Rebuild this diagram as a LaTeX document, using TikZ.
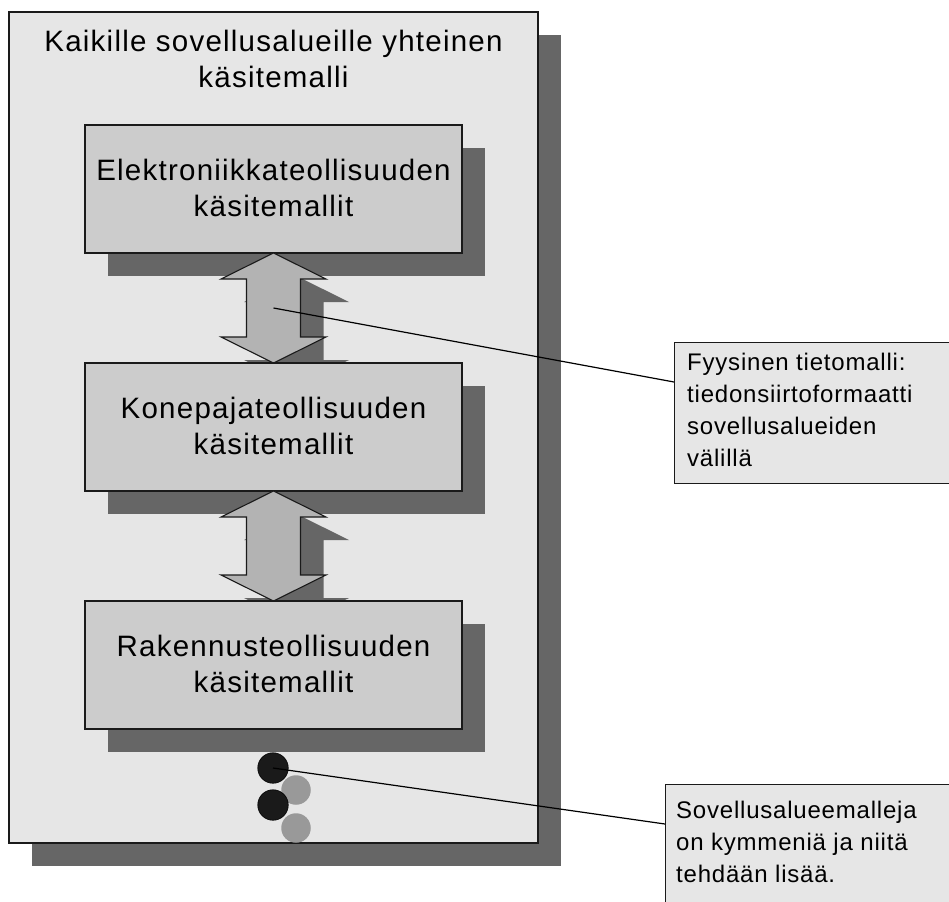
\documentclass[tikz,border=0pt]{standalone}
\usepackage{fontspec}
\setmainfont{Liberation Sans}
\newfontfamily\boxfont{Liberation Sans}[LetterSpace=4.2]
\newfontfamily\notefont{Liberation Sans}[LetterSpace=3.3]
\usetikzlibrary{shadows}

\definecolor{panelgray}{HTML}{E6E6E6}
\definecolor{boxgray}{HTML}{CCCCCC}
\definecolor{shadowgray}{HTML}{666666}
\definecolor{arrowgray}{HTML}{B3B3B3}
\definecolor{dotgray}{HTML}{999999}
\definecolor{dotblack}{HTML}{1A1A1A}
\definecolor{edge}{HTML}{1A1A1A}

\begin{document}
\begin{tikzpicture}[x=1pt,y=-1pt,
  deepshadow/.style={drop shadow={shadow xshift=23pt, shadow yshift=-23pt, opacity=1, fill=shadowgray, draw=none}},
  panel/.style={rectangle, draw=edge, line width=1.3pt, fill=panelgray, inner sep=0pt, deepshadow},
  modelbox/.style={rectangle, draw=edge, line width=1.3pt, fill=boxgray, inner sep=0pt,
    minimum width=377pt, minimum height=128pt, deepshadow},
  bigtext/.style={font=\boxfont\fontsize{29.5}{36}\selectfont, align=center, inner sep=0pt},
  note/.style={rectangle, draw=edge, line width=1.3pt, fill=panelgray, inner sep=0pt, anchor=north west},
  notetext/.style={font=\notefont\fontsize{24}{32}\selectfont, align=left, inner sep=0pt, anchor=north west},
  twoway/.style={draw=edge, line width=1.1pt, fill=arrowgray, line join=miter, deepshadow},
  dotdark/.style={circle, fill=dotblack, draw=black, line width=0.6pt, minimum size=30.5pt, inner sep=0pt},
  dotlight/.style={circle, fill=dotgray, minimum size=29.5pt, inner sep=0pt},
  leader/.style={draw=black, line width=1.2pt},
  pics/twowayarrow/.style={code={
    \filldraw[twoway] (0,-55) -- (52.5,-29) -- (27,-29) -- (27,29) -- (52.5,29) -- (0,55)
      -- (-52.5,29) -- (-27,29) -- (-27,-29) -- (-52.5,-29) -- cycle;
  }}
]
\clip (0,0) rectangle (949,901);
\fill[white] (0,0) rectangle (949,901);

% common frame for all application areas
\node[panel, minimum width=529pt, minimum height=831pt] (frame) at (273.5,427.5) {};
\node[bigtext] (title) at (273.5,58.5) {Kaikille sovellusalueille yhteinen\\käsitemalli};

% domain models and the exchange arrows between them
\node[modelbox] (m1) at (273.5,189) {};
\node[bigtext, yshift=1.5pt] (m1t) at (m1.center) {Elektroniikkateollisuuden\\käsitemallit};

\coordinate (a1) at (273.5,308);
\pic at (a1) {twowayarrow};

\node[modelbox] (m2) at (273.5,427) {};
\node[bigtext, yshift=1.5pt] (m2t) at (m2.center) {Konepajateollisuuden\\käsitemallit};

\coordinate (a2) at (273.5,546);
\pic at (a2) {twowayarrow};

\node[modelbox] (m3) at (273.5,665) {};
\node[bigtext, yshift=1.5pt] (m3t) at (m3.center) {Rakennusteollisuuden\\käsitemallit};

% further application areas
\node[dotlight] (d2) at (296,790) {};
\node[dotlight] (d4) at (296,828) {};
\node[dotdark] (d1) at (273,768) {};
\node[dotdark] (d3) at (273,805) {};

% callouts
\node[note, minimum width=300pt, minimum height=141pt] (n1) at (674,342) {};
\node[notetext] (n1t) at (687,352.8) {Fyysinen tietomalli:\\tiedonsiirtoformaatti\\sovellusalueiden\\välillä};
\node[note, minimum width=300pt, minimum height=140pt] (n2) at (665,784) {};
\node[notetext] (n2t) at (676,800.8) {Sovellusalueemalleja\\on kymmeniä ja niitä\\tehdään lisää.};

\coordinate (n1in) at (674,382);
\coordinate (n2in) at (665,824);
\draw[leader] (a1) -- (n1in);
\draw[leader] (d1.center) -- (n2in);
\end{tikzpicture}
\end{document}
